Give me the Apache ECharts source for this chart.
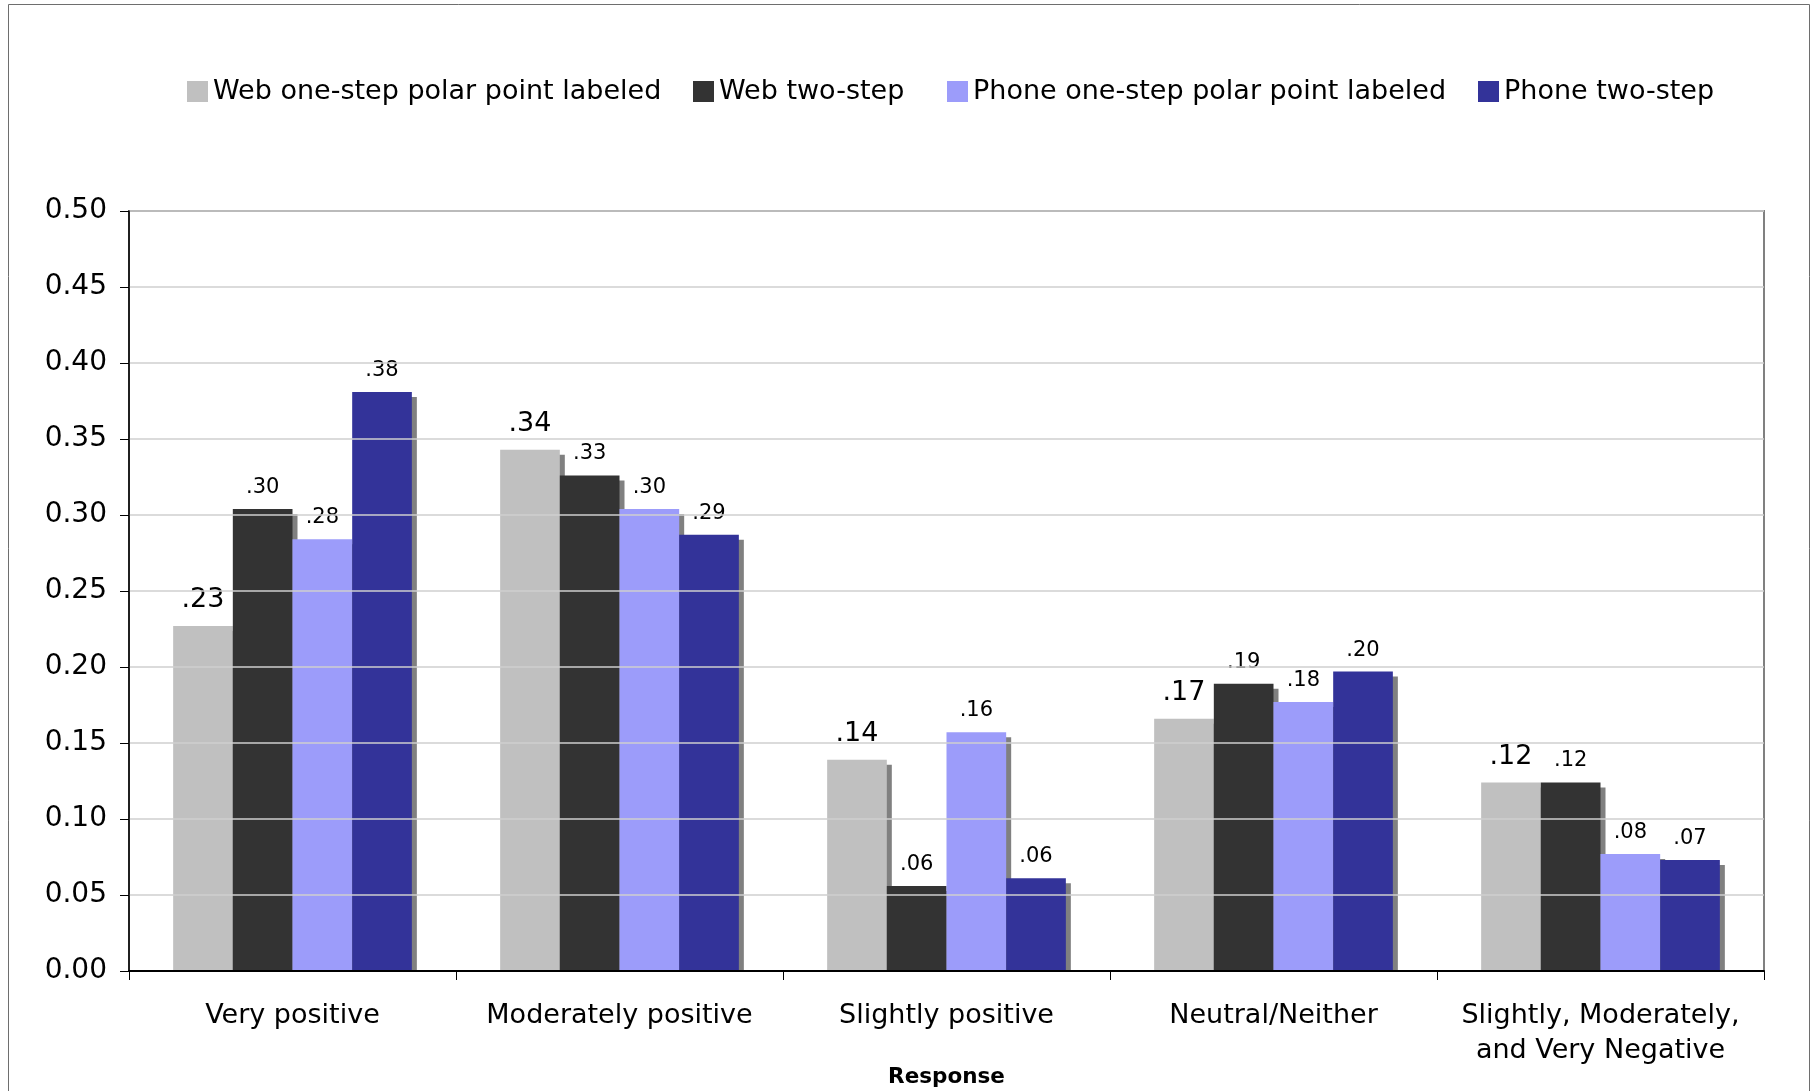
<!DOCTYPE html>
<html>
<head>
<meta charset="utf-8">
<title>Response by mode and scale format</title>
<script src="https://cdn.jsdelivr.net/npm/echarts@6/dist/echarts.min.js"></script>
<style>
  html, body { margin: 0; padding: 0; background: #ffffff; }
  #chart { width: 1815px; height: 1091px; }
</style>
</head>
<body>
<div id="chart"></div>
<script>
// Response categories along the x axis
const categories = [
  'Very positive',
  'Moderately positive',
  'Slightly positive',
  'Neutral/Neither',
  'Slightly, Moderately,\nand Very Negative'
];

// Proportion of respondents per category, one array per condition
const webOneStep   = [0.227, 0.343, 0.139, 0.166, 0.124];
const webTwoStep   = [0.304, 0.326, 0.056, 0.189, 0.124];
const phoneOneStep = [0.284, 0.304, 0.157, 0.177, 0.077];
const phoneTwoStep = [0.381, 0.287, 0.061, 0.197, 0.073];

const seriesNames = [
  'Web one-step polar point labeled',
  'Web two-step',
  'Phone one-step polar point labeled',
  'Phone two-step'
];

// Value axis ticks
const yMin = 0;
const yMax = 0.5;
const yStep = 0.05;

const FONT = '"DejaVu Sans", Verdana, sans-serif';
const colors = ['#C0C0C0', '#333333', '#9C9CFA', '#333399'];

// ".23" style labels: two decimals, no leading zero
const shortLabel = p => p.value.toFixed(2).replace(/^0/, '');

function barSeries(name, values, color, labelSize, labelDistance) {
  return {
    name: name,
    type: 'bar',
    data: values,
    barGap: '0%',
    barCategoryGap: '27%',
    emphasis: { disabled: true },
    itemStyle: {
      color: color,
      shadowColor: '#808080',
      shadowBlur: 0,
      shadowOffsetX: 5,
      shadowOffsetY: 5
    },
    label: {
      show: true,
      position: 'top',
      distance: labelDistance,
      fontFamily: FONT,
      fontSize: labelSize,
      color: '#000000',
      formatter: shortLabel
    }
  };
}

// one legend entry per box so each key sits at its own spot in the row
const legendLefts = [182, 688, 942, 1473];
function legendEntry(name, left) {
  return {
    left: left,
    top: 73,
    icon: 'rect',
    itemWidth: 21,
    itemHeight: 21,
    textStyle: { fontFamily: FONT, fontSize: 27, color: '#000000', lineHeight: 27 },
    data: [name]
  };
}

const chart = echarts.init(document.getElementById('chart'), null, { renderer: 'canvas' });

chart.setOption({
  animation: false,
  backgroundColor: '#ffffff',
  textStyle: { fontFamily: FONT },
  legend: seriesNames.map((n, i) => legendEntry(n, legendLefts[i])),
  grid: {
    left: 129,
    right: 51,
    top: 211,
    bottom: 120,
    outerBoundsMode: 'none',
    containLabel: false,
    show: true,
    backgroundColor: '#ffffff',
    borderColor: '#808080',
    borderWidth: 2
  },
  xAxis: {
    type: 'category',
    data: categories,
    z: 4,
    name: 'Response',
    nameLocation: 'middle',
    nameGap: 95,
    nameMoveOverlap: false,
    nameTextStyle: { fontFamily: FONT, fontSize: 21.5, fontWeight: 'bold', color: '#000000' },
    axisLine: { show: true, lineStyle: { color: '#000000', width: 2 } },
    axisTick: { show: true, alignWithLabel: false, length: 9, lineStyle: { color: '#000000', width: 1 } },
    axisLabel: {
      fontFamily: FONT,
      fontSize: 27,
      lineHeight: 35,
      color: '#000000',
      margin: 27.5,
      interval: 0
    },
    splitLine: { show: false }
  },
  yAxis: {
    type: 'value',
    min: yMin,
    max: yMax,
    interval: yStep,
    z: 4,
    axisLine: { show: true, lineStyle: { color: '#000000', width: 1.5 } },
    axisTick: { show: true, length: 9, lineStyle: { color: '#000000', width: 1 } },
    axisLabel: {
      fontFamily: FONT,
      fontSize: 28,
      color: '#000000',
      margin: 22,
      formatter: v => v.toFixed(2)
    },
    splitLine: { show: true, lineStyle: { color: '#cfcfcf', width: 1.5 } }
  },
  graphic: [
    // outer frame of the figure
    {
      type: 'rect',
      z: 0,
      silent: true,
      shape: { x: 8.5, y: 4.5, width: 1801, height: 1100 },
      style: { fill: 'none', stroke: '#6e6e6e', lineWidth: 1 }
    },
    // keeps the bar drop shadows from spilling below the baseline
    {
      type: 'rect',
      z: 3,
      silent: true,
      shape: { x: 120, y: 972, width: 1660, height: 7 },
      style: { fill: '#ffffff' }
    }
  ],
  series: [
    barSeries(seriesNames[0], webOneStep, colors[0], 27, 12),
    barSeries(seriesNames[1], webTwoStep, colors[1], 21, 11),
    barSeries(seriesNames[2], phoneOneStep, colors[2], 21, 11),
    barSeries(seriesNames[3], phoneTwoStep, colors[3], 21, 11)
  ]
});
</script>
</body>
</html>
